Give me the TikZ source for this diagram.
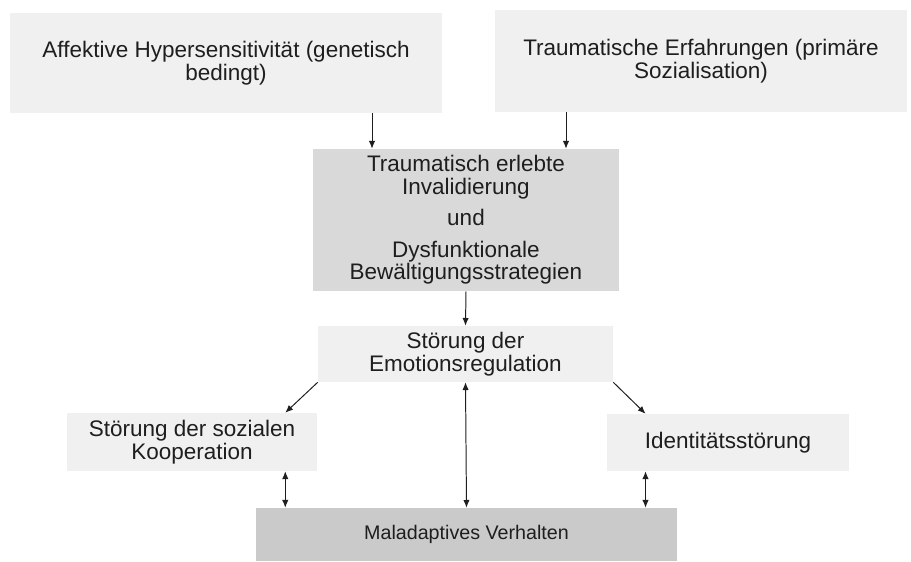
\documentclass[tikz,border=0pt]{standalone}
\usepackage{fontspec}
\setmainfont{Liberation Sans}
\usetikzlibrary{arrows.meta}
\definecolor{pale}{HTML}{F0F0F0}
\definecolor{shade}{HTML}{D9D9D9}
\definecolor{deep}{HTML}{CACACA}
\definecolor{ink}{HTML}{1E1E1E}

\begin{document}
\begin{tikzpicture}[
  every node/.style={font=\fontsize{16}{16}\selectfont,align=center,inner sep=0pt,
                     fill=pale,text=ink},
  midbox/.style={fill=shade},
  lowbox/.style={fill=deep,font=\fontsize{14}{14}\selectfont},
  link/.style={line width=0.7pt,ink},
  >={Latex[length=5.5pt,width=4.5pt]}]
\useasboundingbox (0,0) rectangle (22.775,-14.025);
\node[minimum width=10.8cm,minimum height=2.5cm] (aff) at (5.65,-1.575) {Affektive Hypersensitivität (genetisch\\bedingt)};
\node[minimum width=10.3cm,minimum height=2.55cm] (trauma) at (17.525,-1.525) {Traumatische Erfahrungen (primäre\\Sozialisation)};
\node[midbox,minimum width=7.65cm,minimum height=3.55cm] (inval) at (11.65,-5.5) {Traumatisch erlebte\\Invalidierung\\[6.5pt]und\\[6.5pt]Dysfunktionale\\Bewältigungsstrategien};
\node[minimum width=7.375cm,minimum height=1.4cm] (emo) at (11.6375,-8.85) {Störung der\\Emotionsregulation};
\node[minimum width=6.25cm,minimum height=1.45cm] (soz) at (4.8,-11.05) {Störung der sozialen\\Kooperation};
\node[minimum width=6.05cm,minimum height=1.425cm] (ident) at (18.2,-11.0625) {Identitätsstörung};
\node[lowbox,minimum width=10.525cm,minimum height=1.325cm] (mal) at (11.6625,-13.3625) {Maladaptives Verhalten};
% feet of the arrows
\coordinate (inl) at ([xshift=-2.35cm]inval.north);
\coordinate (inr) at ([xshift=2.5cm]inval.north);
\coordinate (sozr) at ([xshift=-0.8cm]soz.north east);
\coordinate (idl) at ([xshift=0.97cm]ident.north west);
\draw[->,link] (aff.south -| inl) -- (inl);
\draw[->,link] (trauma.south -| inr) -- (inr);
\draw[->,link] (inval.south) -- (emo.north);
\draw[->,link] (emo.south west) -- (sozr);
\draw[->,link] (emo.south east) -- (idl);
\draw[<->,link] (emo.south) -- (mal.north);
\draw[<->,link] (soz.south -| sozr) -- (mal.north -| sozr);
\draw[<->,link] (ident.south -| idl) -- (mal.north -| idl);
\end{tikzpicture}
\end{document}
